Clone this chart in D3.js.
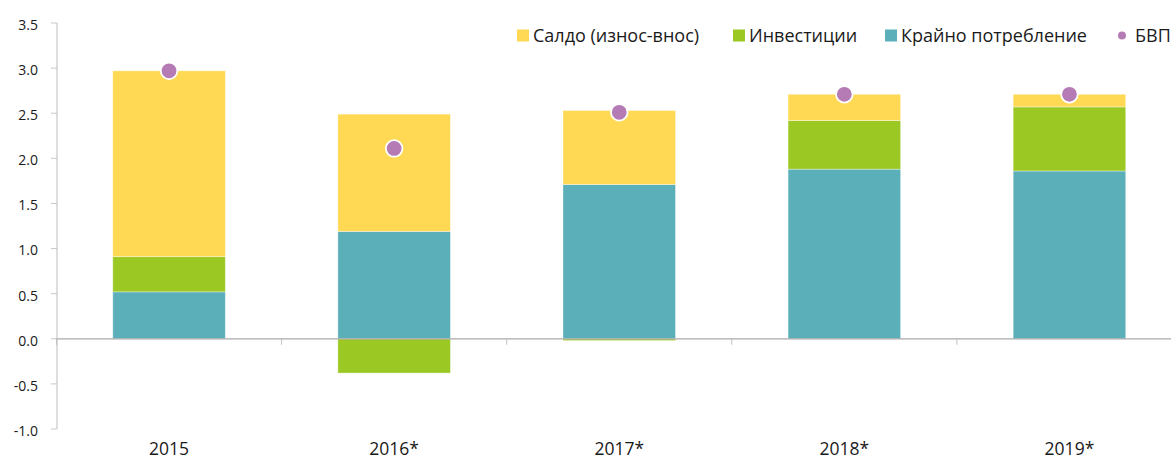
<!DOCTYPE html>
<html>
<head>
<meta charset="utf-8">
<script src="https://cdn.jsdelivr.net/npm/d3@7.9.0/dist/d3.min.js"></script>
<style>
  body { margin: 0; background: #fff; }
  svg { display: block; font-family: 'Open Sans', sans-serif; }
  .y-axis text { font-size: 14px; fill: #1a1a1a; }
  .x-labels text { font-size: 17.5px; fill: #1a1a1a; }
  .legend text { font-size: 18px; fill: #1a1a1a; }
</style>
</head>
<body>
<div id="chart"></div>
<script>
// data
const years = ['2015', '2016*', '2017*', '2018*', '2019*'];
const consumption = [0.52, 1.19, 1.71, 1.88, 1.86]; // Крайно потребление
const investment = [0.39, -0.38, -0.02, 0.54, 0.71]; // Инвестиции
const balance = [2.06, 1.30, 0.82, 0.29, 0.14];     // Салдо (износ-внос)
const gdp = [2.97, 2.11, 2.51, 2.71, 2.71];          // БВП
const yTicks = [-1.0, -0.5, 0.0, 0.5, 1.0, 1.5, 2.0, 2.5, 3.0, 3.5];

const width = 1171;
const height = 458;

const keys = ['consumption', 'investment', 'balance'];
const colors = {
  consumption: '#5BAFB9',
  investment: '#9BC823',
  balance: '#FFD954',
};
const gdpColor = '#B57BB4';

const rows = years.map((year, i) => ({
  year,
  consumption: consumption[i],
  investment: investment[i],
  balance: balance[i],
  gdp: gdp[i],
}));

const svg = d3
  .select('#chart')
  .append('svg')
  .attr('width', width)
  .attr('height', height);

// plot runs a little past the right edge, like the original
const xScale = d3.scaleBand().domain(years).range([56.5, 1182]).paddingInner(0.5).paddingOuter(0.25);
const yScale = d3.scaleLinear().domain([-1, 3.5]).range([429, 23]);

// y axis
const yAxis = svg.append('g').attr('class', 'y-axis');
yAxis
  .append('line')
  .attr('x1', 57)
  .attr('x2', 57)
  .attr('y1', yScale(3.5))
  .attr('y2', yScale(-1))
  .attr('stroke', '#c8c8c8')
  .attr('stroke-width', 1.2);
yAxis
  .selectAll('line.tick')
  .data(yTicks)
  .join('line')
  .attr('class', 'tick')
  .attr('x1', 51)
  .attr('x2', 57)
  .attr('y1', (d) => yScale(d))
  .attr('y2', (d) => yScale(d))
  .attr('stroke', '#c8c8c8');
yAxis
  .selectAll('text')
  .data(yTicks)
  .join('text')
  .attr('x', 38)
  .attr('y', (d) => yScale(d) + 2)
  .attr('dy', '0.35em')
  .attr('text-anchor', 'end')
  .text((d) => d3.format('.1f')(d).replace('−', '-'));

// stacked bars
const series = d3.stack().keys(keys).offset(d3.stackOffsetDiverging)(rows);

svg
  .append('g')
  .attr('class', 'bars')
  .selectAll('g')
  .data(series)
  .join('g')
  .attr('fill', (s) => colors[s.key])
  .selectAll('rect')
  .data((s) => s)
  .join('rect')
  .attr('x', (d) => xScale(d.data.year))
  .attr('width', xScale.bandwidth())
  .attr('y', (d) => yScale(Math.max(d[0], d[1])))
  .attr('height', (d) => Math.abs(yScale(d[0]) - yScale(d[1])))
  .attr('stroke', '#ffffff')
  .attr('stroke-opacity', 0.45)
  .attr('stroke-width', 0.8);

// zero line + category ticks
const zeroY = yScale(0);
svg
  .append('line')
  .attr('x1', 57)
  .attr('x2', width)
  .attr('y1', zeroY)
  .attr('y2', zeroY)
  .attr('stroke', '#aaaaaa')
  .attr('stroke-width', 1.2);

const step = xScale.step();
const boundaries = years.map((y) => xScale(y) - step * 0.25);
svg
  .append('g')
  .selectAll('line')
  .data(boundaries)
  .join('line')
  .attr('x1', (d) => d)
  .attr('x2', (d) => d)
  .attr('y1', zeroY)
  .attr('y2', zeroY + 6)
  .attr('stroke', '#c0c0c0');

// x labels
svg
  .append('g')
  .attr('class', 'x-labels')
  .selectAll('text')
  .data(years)
  .join('text')
  .attr('x', (d) => xScale(d) + xScale.bandwidth() / 2)
  .attr('y', 454.5)
  .attr('text-anchor', 'middle')
  .text((d) => d);

// GDP dots
svg
  .append('g')
  .attr('class', 'dots')
  .selectAll('circle')
  .data(rows)
  .join('circle')
  .attr('cx', (d) => xScale(d.year) + xScale.bandwidth() / 2)
  .attr('cy', (d) => yScale(d.gdp))
  .attr('r', 8.3)
  .attr('fill', gdpColor)
  .attr('stroke', '#fff')
  .attr('stroke-width', 1.8);

// legend
const legendItems = [
  { label: 'Салдо (износ-внос)', color: colors.balance, x: 517, type: 'rect' },
  { label: 'Инвестиции', color: colors.investment, x: 733, type: 'rect' },
  { label: 'Крайно потребление', color: colors.consumption, x: 885, type: 'rect' },
  { label: 'БВП', color: gdpColor, x: 1118, type: 'dot' },
];

const legend = svg.append('g').attr('class', 'legend');
const item = legend
  .selectAll('g')
  .data(legendItems)
  .join('g')
  .attr('transform', (d) => `translate(${d.x}, 35.5)`);

item
  .filter((d) => d.type === 'rect')
  .append('rect')
  .attr('x', 0)
  .attr('y', -6)
  .attr('width', 12)
  .attr('height', 12)
  .attr('fill', (d) => d.color);

item
  .filter((d) => d.type === 'dot')
  .append('circle')
  .attr('cx', 4)
  .attr('cy', 0)
  .attr('r', 4)
  .attr('fill', (d) => d.color);

item
  .append('text')
  .attr('x', (d) => (d.type === 'dot' ? 17 : 16))
  .attr('y', 0)
  .attr('dy', '0.35em')
  .text((d) => d.label);
</script>
</body>
</html>
